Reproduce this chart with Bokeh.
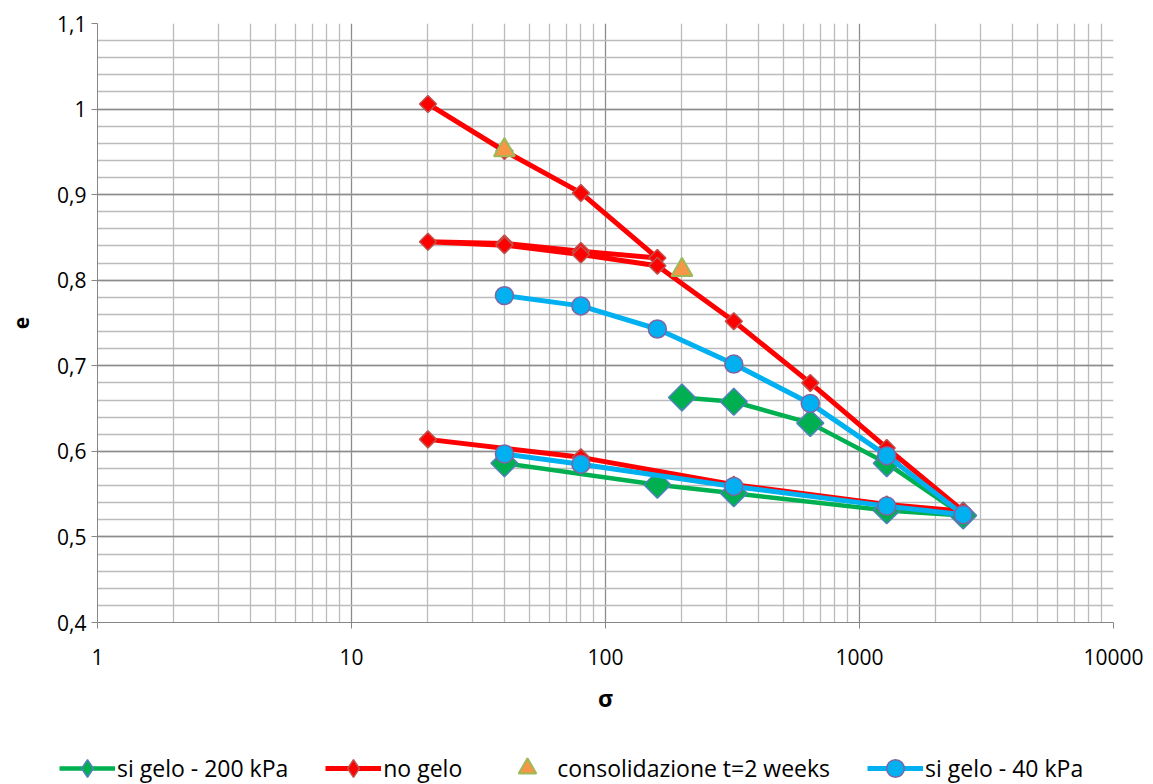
import numpy as np
from bokeh.plotting import figure
from bokeh.layouts import column, row
from bokeh.models import (Range1d, FixedTicker, CustomJSTickFormatter, Legend, LegendItem)
from bokeh.embed import file_html
from bokeh.resources import INLINE

# ---- data ----
green_sigma = [200, 320, 640, 1280, 2560, 1280, 320, 160, 40]
green_e = [0.663, 0.658, 0.633, 0.586, 0.525, 0.531, 0.551, 0.561, 0.586]

red_sigma = [20, 40, 80, 160, 80, 40, 20, 40, 80, 160, 320, 640, 1280, 2560, 1280, 320, 80, 20]
red_e = [1.006, 0.951, 0.902, 0.826, 0.834, 0.843, 0.845, 0.841, 0.830, 0.817,
         0.752, 0.680, 0.604, 0.530, 0.538, 0.561, 0.593, 0.614]

tri_sigma = [40, 200]
tri_e = [0.952, 0.812]

blue_sigma = [40, 80, 160, 320, 640, 1280, 2560, 1280, 320, 80, 40]
blue_e = [0.782, 0.770, 0.743, 0.702, 0.656, 0.595, 0.526, 0.536, 0.559, 0.585, 0.597]

x_major = [1, 10, 100, 1000, 10000]
x_minor = [m * 10 ** k for k in range(4) for m in range(2, 10)]
y_major = [round(v, 2) for v in np.arange(0.4, 1.1001, 0.1)]
y_minor = [round(v, 2) for v in np.arange(0.4, 1.1001, 0.02)]

labels = ["si gelo - 200 kPa", "no gelo", "consolidazione t=2 weeks", "si gelo - 40 kPa"]

# ---- styles ----
G_LINE = dict(line_color="#00B050", line_width=4.5)
G_MARK = dict(fill_color="#00B050", line_color="#4F81BD", line_width=1.5)
R_LINE = dict(line_color="#FF0000", line_width=5)
R_MARK = dict(fill_color="#FF0000", line_color="#C0504D", line_width=1.5)
T_MARK = dict(marker="triangle", fill_color="#F79646", line_color="#9BBB59", line_width=2)
B_LINE = dict(line_color="#00B0F0", line_width=5)
B_MARK = dict(marker="circle", fill_color="#00B0F0", line_color="#8064A2", line_width=1.5)
FONT = "Open Sans"

# ---- main figure ----
p = figure(width=1153, height=730, x_axis_type="log",
           x_range=Range1d(1, 10000), y_range=Range1d(0.4, 1.1),
           output_backend="svg", toolbar_location=None,
           min_border_left=97, min_border_right=40, min_border_top=23, min_border_bottom=108)
p.outline_line_color = None
p.background_fill_color = "white"
p.border_fill_color = "white"

p.xaxis.ticker = FixedTicker(ticks=x_major, minor_ticks=x_minor)
p.yaxis.ticker = FixedTicker(ticks=y_major, minor_ticks=y_minor)
p.xaxis.formatter = CustomJSTickFormatter(code="return tick.toFixed(0);")
p.yaxis.formatter = CustomJSTickFormatter(
    code="return (Math.round(tick*10)/10).toString().replace('.', ',');")

for ax in (p.xaxis, p.yaxis):
    ax.axis_line_color = "#868686"
    ax.major_tick_line_color = "#868686"
    ax.major_tick_out = 6
    ax.major_tick_in = 0
    ax.minor_tick_out = 0
    ax.minor_tick_in = 0
    ax.major_label_text_color = "black"
    ax.major_label_text_font = FONT
    ax.major_label_text_font_size = "21px"
    ax.axis_label_text_color = "black"
    ax.axis_label_text_font = FONT
    ax.axis_label_text_font_style = "bold"

p.xaxis.major_label_standoff = 20
p.yaxis.major_label_standoff = 5

p.xaxis.axis_label = "σ"
p.xaxis.axis_label_text_font_size = "23px"
p.xaxis.axis_label_standoff = 14
p.yaxis.axis_label = "e"
p.yaxis.axis_label_text_font_size = "21px"
p.yaxis.axis_label_standoff = 25

for g in (p.xgrid, p.ygrid):
    g.grid_line_color = "#8C8C8C"
    g.grid_line_width = 1.3
    g.minor_grid_line_color = "#BBBBBB"
    g.minor_grid_line_width = 1.3

p.line(green_sigma, green_e, **G_LINE)
p.scatter(green_sigma, green_e, marker="square", angle=np.pi / 4, size=19, **G_MARK)
p.line(red_sigma, red_e, **R_LINE)
p.scatter(red_sigma, red_e, marker="square", angle=np.pi / 4, size=12, **R_MARK)
p.scatter(tri_sigma, tri_e, size=21, **T_MARK)
p.line(blue_sigma, blue_e, **B_LINE)
p.scatter(blue_sigma, blue_e, size=18, **B_MARK)

# ---- legend strip (separate figure below; series drawn off-range as legend proxies) ----
q = figure(width=1153, height=54, x_range=Range1d(0, 1), y_range=Range1d(0, 1),
           output_backend="svg", toolbar_location=None,
           x_axis_location=None, y_axis_location=None, min_border=0,
           min_border_left=0, min_border_right=0, min_border_top=0, min_border_bottom=0)
q.outline_line_color = None
q.xgrid.visible = False
q.ygrid.visible = False
q.background_fill_color = "white"
q.border_fill_color = "white"

lg_g = [q.line(green_sigma, green_e, **G_LINE), q.scatter(green_sigma, green_e, marker="diamond", **G_MARK)]
lg_r = [q.line(red_sigma, red_e, **R_LINE), q.scatter(red_sigma, red_e, marker="diamond", **R_MARK)]
lg_t = [q.scatter(tri_sigma, tri_e, **T_MARK)]
lg_b = [q.line(blue_sigma, blue_e, **B_LINE), q.scatter(blue_sigma, blue_e, **B_MARK)]

items = [LegendItem(label=labels[0], renderers=lg_g),
         LegendItem(label=labels[1], renderers=lg_r),
         LegendItem(label=labels[2], renderers=lg_t),
         LegendItem(label=labels[3], renderers=lg_b)]
lg = Legend(items=items, location=(59, -6), orientation="horizontal",
            background_fill_alpha=0, border_line_alpha=0,
            padding=0, margin=0, spacing=37, glyph_width=56, glyph_height=44,
            label_standoff=2, label_height=20, label_text_font=FONT,
            label_text_font_size="23px", label_text_color="black")
q.add_layout(lg, "center")

open("out.html", "w").write(file_html(column(p, row(q), spacing=0), INLINE))
